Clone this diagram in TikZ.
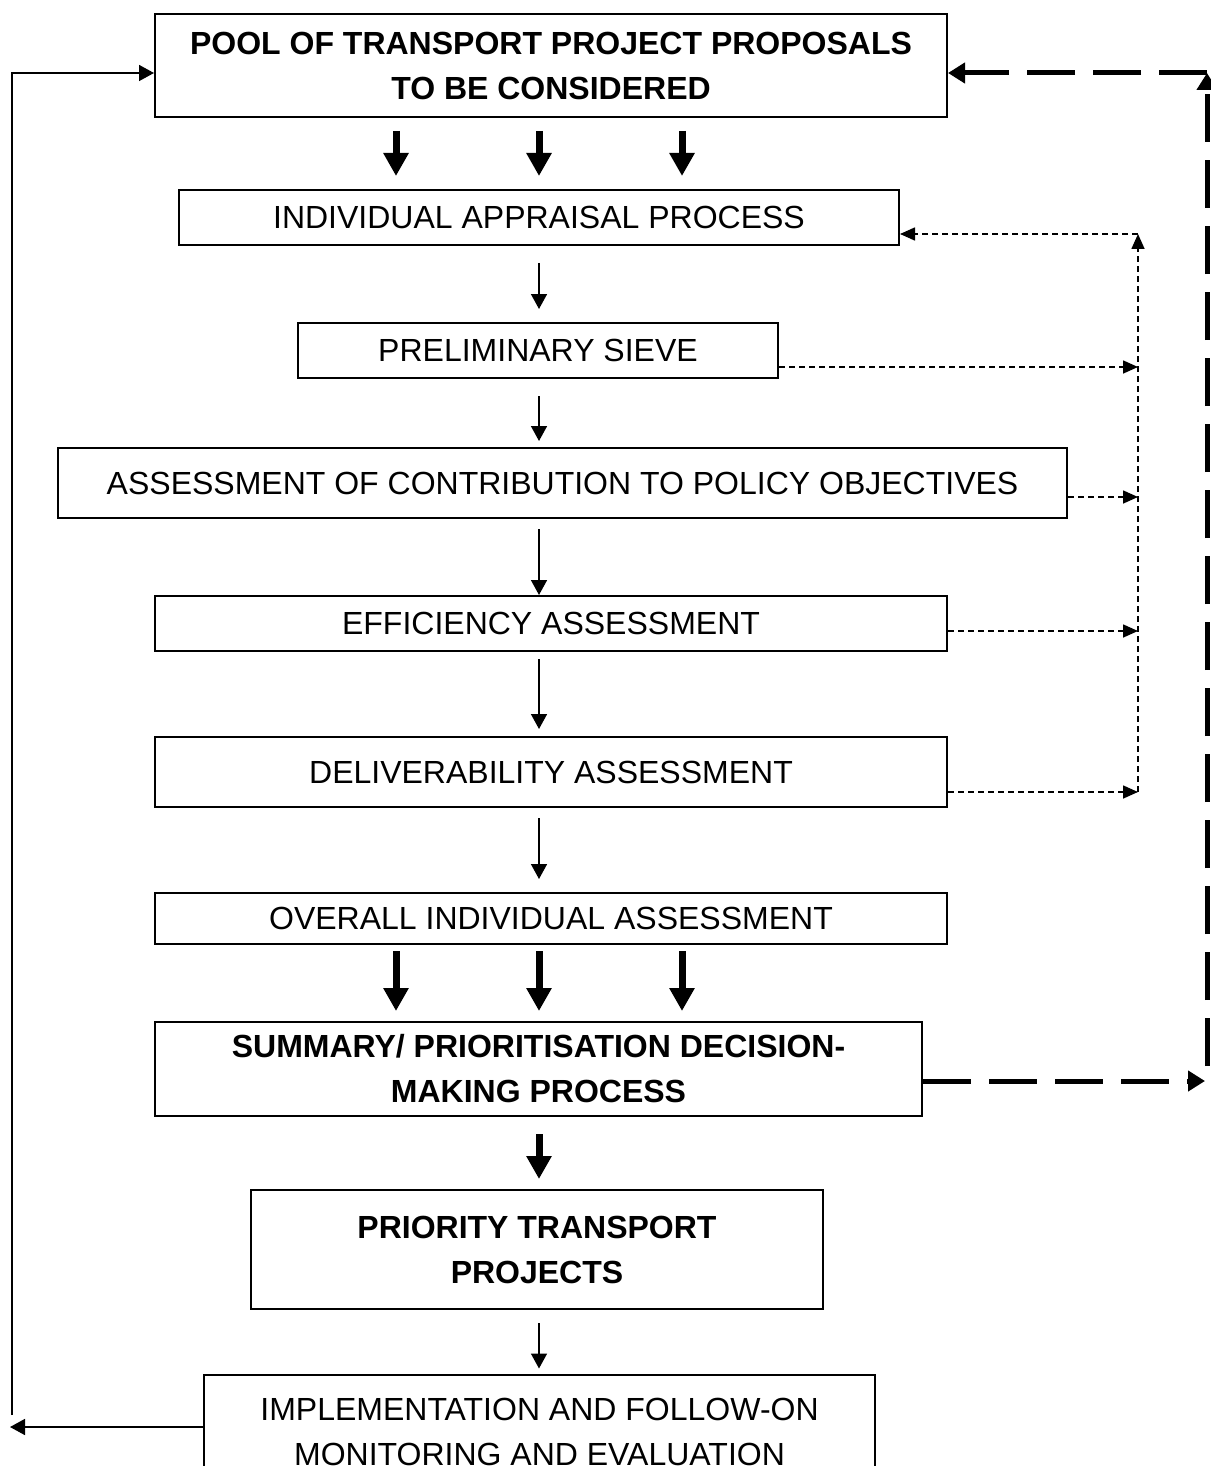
\documentclass[tikz,border=0pt]{standalone}
\usepackage{fontspec}
\setmainfont{Liberation Sans}
\usetikzlibrary{arrows.meta}

\begin{document}
\begin{tikzpicture}[x=0.5pt,y=-0.5pt,
    box/.style={draw,line width=1pt,align=center,inner sep=0pt,
      font=\fontsize{16pt}{22.5pt}\selectfont},
    boldbox/.style={box,font=\fontsize{16pt}{22.5pt}\selectfont\bfseries},
    flow/.style={line width=0.8pt,-{Triangle[length=7.5pt,width=8pt]}},
    fat/.style={line width=3.5pt,-{Triangle[length=11.5pt,width=12pt]}},
    back/.style={line width=0.8pt,dash pattern=on 3pt off 2pt,-{Triangle[length=7.5pt,width=6.5pt]}},
    bigback/.style={line width=2.5pt,dash pattern=on 24pt off 9pt,-{Triangle[length=8.5pt,width=10pt]}}]
    \useasboundingbox (0,0) rectangle (1210,1466);
    % boxes
    \node[boldbox,minimum width=396pt,minimum height=51.5pt] (pool) at (551,65.5)
      {POOL OF TRANSPORT PROJECT PROPOSALS\\TO BE CONSIDERED};
    \node[box,minimum width=360pt,minimum height=27.5pt] (appr) at (539,217.5)
      {INDIVIDUAL APPRAISAL PROCESS};
    \node[box,minimum width=240pt,minimum height=27.5pt] (sieve) at (538,350.5)
      {PRELIMINARY SIEVE};
    \node[box,minimum width=504.5pt,minimum height=35pt] (assess) at (562.5,483)
      {ASSESSMENT OF CONTRIBUTION TO POLICY OBJECTIVES};
    \node[box,minimum width=396pt,minimum height=27.5pt] (effic) at (551,623.5)
      {EFFICIENCY ASSESSMENT};
    \node[box,minimum width=396pt,minimum height=35pt] (deliv) at (551,772)
      {DELIVERABILITY ASSESSMENT};
    \node[box,minimum width=396pt,minimum height=25.5pt] (overall) at (551,918.5)
      {OVERALL INDIVIDUAL ASSESSMENT};
    \node[boldbox,minimum width=383.5pt,minimum height=47pt] (summary) at (538.5,1069)
      {SUMMARY/ PRIORITISATION DECISION-\\MAKING PROCESS};
    \node[boldbox,minimum width=286pt,minimum height=59.5pt] (priority) at (537,1249.5)
      {PRIORITY TRANSPORT\\PROJECTS};
    \node[box,minimum width=335.5pt,minimum height=57.5pt] (impl) at (539.5,1432)
      {IMPLEMENTATION AND FOLLOW-ON\\MONITORING AND EVALUATION};
    % columns of the arrows
    \coordinate (l) at (396,0);
    \coordinate (m) at (539,0);
    \coordinate (r) at (682,0);
    \foreach \c in {l,m,r} {
      \draw[fat,shorten <=6.5pt,shorten >=6.5pt] (pool.south -| \c) -- (appr.north -| \c);
      \draw[fat,shorten <=3pt,shorten >=5pt] (overall.south -| \c) -- (summary.north -| \c);
    }
    \foreach \a/\b/\s/\e in {appr/sieve/8.5pt/6.5pt,sieve/assess/8.5pt/3pt,
        assess/effic/5pt/0pt,effic/deliv/3.5pt/3.5pt,deliv/overall/5pt/6.5pt,
        priority/impl/6.5pt/2.5pt} {
      \draw[flow,shorten <=\s,shorten >=\e] (\a.south -| m) -- (\b.north -| m);
    }
    \draw[fat,shorten <=8.5pt,shorten >=5pt] (summary.south -| m) -- (priority.north -| m);
    % feedback on the right
    \coordinate (railtop) at (1138,234);
    \coordinate (railbot) at (1138,792);
    \foreach \n/\d in {sieve/8.25pt,assess/7pt,effic/3.75pt,deliv/10pt} {
      \draw[back] ([yshift=-\d]\n.east) -- ([yshift=-\d]\n.east -| railtop);
    }
    \draw[back] (railbot) -- (railtop);
    \draw[back] (railtop) -- (railtop -| appr.east);
    % outer loop
    \coordinate (loopend) at (1205,0);
    \coordinate (looplo) at (1207,1066);
    \coordinate (loophi) at (1207,73);
    \draw[bigback] ([yshift=-6pt]summary.east) -- ([yshift=-6pt]summary.east -| loopend);
    \draw[bigback] (looplo) -- (loophi);
    \draw[bigback] (loophi) -- (loophi -| pool.east);
    % left loop
    \coordinate (leftend) at (10,1427);
    \coordinate (leftlo) at (12,1415);
    \draw[flow] ([yshift=2.5pt]impl.west) -- (leftend);
    \draw[flow] (leftlo) |- ([yshift=-3.75pt]pool.west);
\end{tikzpicture}
\end{document}
